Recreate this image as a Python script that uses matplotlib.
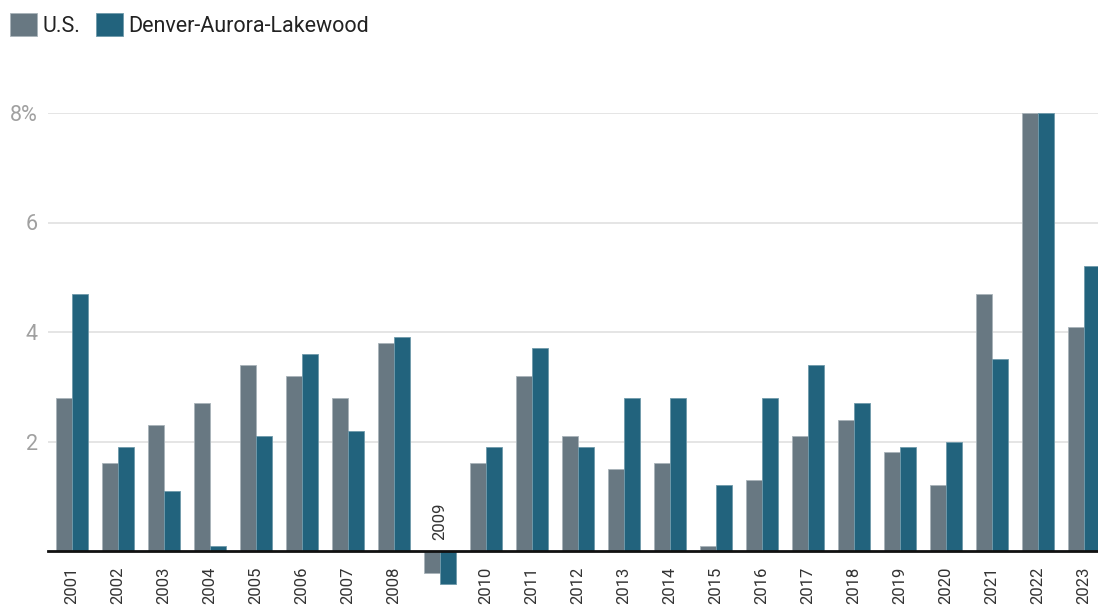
import matplotlib
matplotlib.use("Agg")
import matplotlib.pyplot as plt
from matplotlib.patches import Patch
from matplotlib.transforms import ScaledTranslation
import numpy as np

plt.rcParams['font.family'] = ['Roboto', 'DejaVu Sans']

years = ["2001", "2002", "2003", "2004", "2005", "2006", "2007", "2008", "2009", "2010", "2011", "2012",
         "2013", "2014", "2015", "2016", "2017", "2018", "2019", "2020", "2021", "2022", "2023"]
us = [2.8, 1.6, 2.3, 2.7, 3.4, 3.2, 2.8, 3.8, -0.4, 1.6, 3.2, 2.1,
      1.5, 1.6, 0.1, 1.3, 2.1, 2.4, 1.8, 1.2, 4.7, 8.0, 4.1]
denver = [4.7, 1.9, 1.1, 0.1, 2.1, 3.6, 2.2, 3.9, -0.6, 1.9, 3.7, 1.9,
          2.8, 2.8, 1.2, 2.8, 3.4, 2.7, 1.9, 2.0, 3.5, 8.0, 5.2]
series_names = ["U.S.", "Denver-Aurora-Lakewood"]
yticks = [2, 4, 6, 8]
ytick_labels = ["2", "4", "6", "8%"]

c_us = "#687882"
c_den = "#22637d"

W, H = 1098, 605
fig = plt.figure(figsize=(W / 100, H / 100), dpi=100)
ax = fig.add_axes([48 / W, (H - 551) / H, 1050 / W, 438 / H])

x = np.arange(len(years))
bw = 16 / 46
ax.bar(x - bw / 2, us, width=bw, color=c_us, edgecolor="#a9b3b9", linewidth=0.6, clip_on=False, zorder=3)
ax.bar(x + bw / 2, denver, width=bw, color=c_den, edgecolor="#6f9aab", linewidth=0.6, clip_on=False, zorder=3)

ax.set_xlim(-24 / 46, 1026 / 46)
ax.set_ylim(0, 8)
ax.set_yticks(yticks)
ax.set_yticklabels(ytick_labels)
ax.tick_params(axis='y', length=0, pad=7.2, labelsize=15.5, labelcolor="#a0a0a0")
ax.set_xticks([])
for s in ax.spines.values():
    s.set_visible(False)
ax.grid(axis='y', color="#e0e0e0", linewidth=1.2, zorder=0)
ax.set_axisbelow(True)
ax.axhline(0, color="#111111", linewidth=2, zorder=4, clip_on=False)

for i, (lab, u, d) in enumerate(zip(years, us, denver)):
    if min(u, d) < 0:
        tr = ax.transData + ScaledTranslation(0, 11 / 100, fig.dpi_scale_trans)
        ax.text(i, 0, lab, rotation=90, ha='center', va='bottom', fontsize=12, color="#333333", transform=tr)
    else:
        tr = ax.transData + ScaledTranslation(0, -16 / 100, fig.dpi_scale_trans)
        ax.text(i, 0, lab, rotation=90, ha='center', va='top', fontsize=12, color="#333333", transform=tr)

handles = [Patch(facecolor=c_us, edgecolor="#a9b3b9", linewidth=0.6, label=series_names[0]),
           Patch(facecolor=c_den, edgecolor="#6f9aab", linewidth=0.6, label=series_names[1])]
fig.legend(handles=handles, loc='upper left', bbox_to_anchor=(10 / W, 1 - 13 / H), ncol=2, frameon=False,
           fontsize=15.5, handlelength=1.25, handleheight=1.25, handletextpad=0.24, columnspacing=0.75,
           borderpad=0, borderaxespad=0, labelcolor="#222222")

fig.savefig("out.png", dpi=100)
